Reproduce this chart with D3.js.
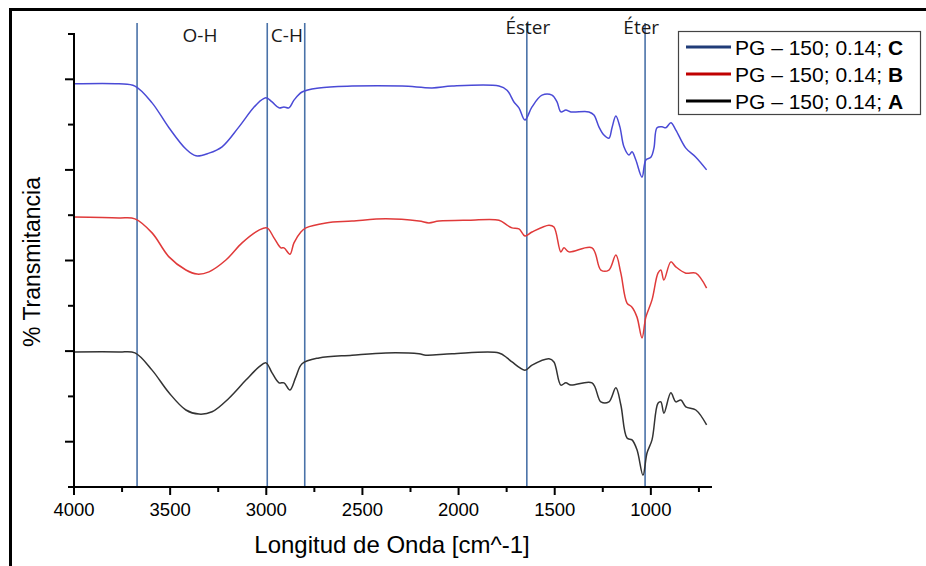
<!DOCTYPE html>
<html><head><meta charset="utf-8">
<script src="https://cdn.jsdelivr.net/npm/d3@7"></script>
<style>body{margin:0;background:#fff}svg{display:block}</style>
</head><body><svg id="chart" width="926" height="566"></svg>
<script>
// ---- data ----
const legendLabels = ["PG – 150; 0.14; ", "PG – 150; 0.14; ", "PG – 150; 0.14; "];
const legendLetters = ["C", "B", "A"];

const cWn = [4000,3766,3683,3594,3506,3418,3366,3298,3230,3142,3054,3002,2970,2934,2908,2882,2856,2814,2726,2554,2294,2138,2034,1790,1748,1712,1686,1655,1618,1566,1514,1488,1468,1442,1416,1322,1296,1270,1244,1218,1202,1182,1161,1140,1114,1098,1078,1046,1026,1000,984,968,942,922,896,870,818,766,710];
const cT  = [89.0,89.0,88.5,84.8,79.3,74.6,73.1,73.7,75.1,79.5,84.3,85.9,85.0,83.7,83.9,83.7,85.4,87.2,88.1,88.5,88.5,88.1,88.5,88.5,87.6,85.0,83.7,81.0,83.9,86.5,86.5,85.0,82.8,83.2,82.8,82.8,82.1,79.5,77.7,77.0,79.3,81.9,79.5,75.1,73.3,74.0,72.2,68.4,72.2,72.8,74.8,79.3,79.5,79.3,80.4,78.8,74.8,72.8,70.0];

const bWn = [4000,3766,3683,3594,3506,3418,3360,3298,3210,3126,3038,2996,2960,2924,2908,2877,2856,2820,2794,2690,2554,2378,2206,2154,2102,1946,1790,1748,1722,1686,1655,1618,1530,1504,1468,1452,1426,1306,1260,1218,1182,1156,1124,1098,1072,1046,1026,994,963,948,932,896,870,818,766,710];
const bT  = [59.6,59.4,59.2,56.1,50.8,47.9,47.0,47.5,50.1,53.9,56.7,57.2,55.0,52.8,52.8,51.4,53.9,56.3,57.2,58.3,58.7,59.2,58.7,58.3,58.7,58.9,58.9,57.8,57.2,57.0,55.4,56.3,57.8,57.4,51.9,52.8,51.9,52.8,47.9,47.9,51.2,47.2,40.6,39.7,37.5,32.9,37.5,41.3,47.2,47.9,45.7,49.7,48.6,47.2,47.2,43.9];

const aWn = [4000,3766,3683,3594,3506,3418,3350,3282,3194,3106,3038,3002,2970,2934,2908,2877,2846,2814,2726,2554,2378,2206,2170,2034,1790,1748,1722,1655,1618,1530,1504,1468,1442,1416,1306,1260,1218,1182,1156,1124,1098,1072,1041,1020,994,963,948,932,896,870,844,818,766,710];
const aT  = [29.8,29.8,29.6,25.8,20.8,17.0,16.1,16.6,19.6,23.6,26.5,27.4,25.2,23.0,23.0,21.4,24.3,27.2,28.5,29.1,29.6,29.4,29.1,29.4,29.6,28.5,27.6,25.8,26.9,28.3,27.6,22.5,23.0,22.5,23.0,18.8,18.8,21.9,18.1,10.8,10.4,8.2,2.6,7.5,10.4,18.5,18.8,16.3,20.8,18.8,19.2,17.7,17.0,13.7];

const bandWn = [3672, 2995, 2800, 1645, 1030];
const bandLabels = ["O-H", "C-H", "Éster", "Éter"];
const bandLabelWn = [3345, 2893, 1640, 1050];

const xMajorTicks = [4000, 3500, 3000, 2500, 2000, 1500, 1000];
const xMinorTicks = [3750, 3250, 2750, 2250, 1750, 1250, 750];
const yMajorTicks = [10, 30, 50, 70, 90];
const yMinorTicks = [0, 20, 40, 60, 80, 100];

// ---- drawing ----
const svg = d3.select("#chart");
const x = d3.scaleLinear().domain([4000, 682]).range([74, 712]);
const y = d3.scaleLinear().domain([0, 100]).range([487, 34]);

// outer frame
svg.append("path").attr("d", "M10.5,580 V9.5 H940")
  .attr("fill", "none").attr("stroke", "#000").attr("stroke-width", 3);

// band lines
svg.append("g").selectAll("line").data(bandWn).join("line")
  .attr("x1", d => x(d)).attr("x2", d => x(d))
  .attr("y1", 23).attr("y2", y(0))
  .attr("stroke", "#4a72a8").attr("stroke-width", 1.6);

// band labels
const labelY = [42, 42, 34, 34];
svg.append("g").selectAll("text").data(bandLabels).join("text")
  .attr("x", (d, i) => x(bandLabelWn[i])).attr("y", (d, i) => labelY[i])
  .attr("text-anchor", "middle")
  .style("font-family", "'Open Sans', sans-serif").style("font-size", "19px")
  .attr("fill", "#1a1a1a").text(d => d);

// curves
const line = d3.line().x(d => x(d[0])).y(d => y(d[1])).curve(d3.curveCatmullRom.alpha(0.5));
const series = [
  {wn: cWn, t: cT, color: "#4a4ad6"},
  {wn: bWn, t: bT, color: "#e03a3a"},
  {wn: aWn, t: aT, color: "#333333"}
];
series.forEach(s => {
  svg.append("path").datum(s.wn.map((w, i) => [w, s.t[i]]))
    .attr("d", line).attr("fill", "none")
    .attr("stroke", s.color).attr("stroke-width", 1.5)
    .attr("stroke-linejoin", "round");
});

// axes
const axG = svg.append("g").attr("stroke", "#000");
axG.append("line").attr("x1", x(4000) - 1).attr("x2", x(682)).attr("y1", y(0)).attr("y2", y(0)).attr("stroke-width", 2);
axG.append("line").attr("x1", x(4000)).attr("x2", x(4000)).attr("y1", y(100) - 1).attr("y2", y(0) + 1).attr("stroke-width", 2);

axG.selectAll(".xmaj").data(xMajorTicks).join("line")
  .attr("x1", d => x(d)).attr("x2", d => x(d)).attr("y1", y(0)).attr("y2", y(0) + 8).attr("stroke-width", 2);
axG.selectAll(".xmin").data(xMinorTicks).join("line")
  .attr("x1", d => x(d)).attr("x2", d => x(d)).attr("y1", y(0)).attr("y2", y(0) + 5).attr("stroke-width", 2);
axG.selectAll(".ymaj").data(yMajorTicks).join("line")
  .attr("x1", x(4000) - 9).attr("x2", x(4000)).attr("y1", d => y(d)).attr("y2", d => y(d)).attr("stroke-width", 2);
axG.selectAll(".ymin").data(yMinorTicks).join("line")
  .attr("x1", x(4000) - 6).attr("x2", x(4000)).attr("y1", d => y(d)).attr("y2", d => y(d)).attr("stroke-width", 2);

svg.append("g").selectAll("text").data(xMajorTicks).join("text")
  .attr("x", d => x(d)).attr("y", y(0) + 29).attr("text-anchor", "middle")
  .style("font-family", "'Liberation Sans', Arial, sans-serif").style("font-size", "18.5px")
  .attr("fill", "#000").text(d => d);

svg.append("text").attr("x", 392).attr("y", 553).attr("text-anchor", "middle")
  .style("font-family", "'Liberation Sans', Arial, sans-serif").style("font-size", "24px")
  .text("Longitud de Onda [cm^-1]");

svg.append("text").attr("transform", "translate(40,262) rotate(-90)").attr("text-anchor", "middle")
  .style("font-family", "'Liberation Sans', Arial, sans-serif").style("font-size", "23px")
  .text("% Transmitancia");

// legend
const legendColors = ["#203c78", "#c00000", "#000000"];
const lg = svg.append("g");
lg.append("rect").attr("x", 678.5).attr("y", 31.5).attr("width", 242).attr("height", 83)
  .attr("fill", "#fff").attr("stroke", "#444").attr("stroke-width", 1.2);
legendLabels.forEach((lab, i) => {
  const yy = 47 + i * 27;
  lg.append("line").attr("x1", 686).attr("x2", 731).attr("y1", yy).attr("y2", yy)
    .attr("stroke", legendColors[i]).attr("stroke-width", 3);
  const t = lg.append("text").attr("x", 735).attr("y", yy + 7.5)
    .style("font-family", "'Liberation Sans', Arial, sans-serif").style("font-size", "21px");
  t.append("tspan").text(lab);
  t.append("tspan").attr("font-weight", "bold").text(legendLetters[i]);
});
</script>
</body></html>
